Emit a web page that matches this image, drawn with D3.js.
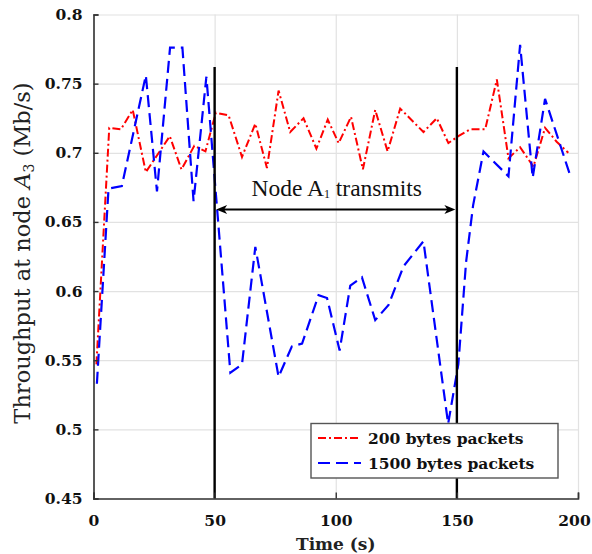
<!DOCTYPE html>
<html>
<head>
<meta charset="utf-8">
<script src="https://cdn.jsdelivr.net/npm/d3@7"></script>
<style>
  body { margin: 0; background: #fff; }
  svg { display: block; }
</style>
</head>
<body>
<svg id="chart"></svg>
<script>
const xTicks = [0, 50, 100, 150, 200];
const yTicks = [0.45, 0.5, 0.55, 0.6, 0.65, 0.7, 0.75, 0.8];
const yTickLabels = ["0.45", "0.5", "0.55", "0.6", "0.65", "0.7", "0.75", "0.8"];

// 200 bytes packets (red, dash-dot)
const redTime = [1.2, 6.5, 11.3, 16.2, 21.6, 31.5, 36.3, 41.6, 46.2, 50.5, 55.8, 61.3, 66.8, 71.6, 76.4,
  81.2, 86.7, 92.0, 96.7, 101.2, 106.3, 111.2, 116.3, 121.4, 126.6, 136.2, 141.7, 146.5, 150.6,
  155.5, 161.7, 166.5, 171.3, 176.1, 181.6, 186.4, 191.2, 196.0];
const redValue = [0.547, 0.718, 0.717, 0.731, 0.686, 0.712, 0.688, 0.705, 0.701, 0.729, 0.727, 0.697, 0.721, 0.689, 0.745,
  0.715, 0.725, 0.703, 0.724, 0.707, 0.726, 0.688, 0.731, 0.701, 0.732, 0.715, 0.725, 0.707, 0.712,
  0.717, 0.717, 0.753, 0.696, 0.704, 0.690, 0.718, 0.708, 0.700];

// 1500 bytes packets (blue, dashed)
const blueTime = [1.4, 6.2, 11.7, 21.6, 26.2, 31.6, 36.7, 41.3, 46.6, 56.5, 61.3, 66.8, 76.4, 81.9, 86.1,
  92.9, 96.4, 101.6, 106.0, 110.8, 116.3, 121.8, 128.0, 136.2, 146.4, 150.6, 153.8, 156.7, 161.0,
  171.3, 176.1, 181.3, 186.4, 196.7];
const blueValue = [0.533, 0.674, 0.676, 0.756, 0.672, 0.776, 0.776, 0.665, 0.755, 0.541, 0.547, 0.632, 0.538, 0.560, 0.562,
  0.597, 0.595, 0.557, 0.604, 0.610, 0.579, 0.590, 0.618, 0.636, 0.504, 0.547, 0.621, 0.662, 0.701,
  0.683, 0.778, 0.682, 0.739, 0.684];

const markTimes = [50, 150];
const markTop = 0.762;
const arrowLevel = 0.659;
const legendNames = ["200 bytes packets", "1500 bytes packets"];

const width = 592;
const height = 554;
const plotLeft = 93.5, plotRight = 578, plotTop = 14.5, plotBottom = 498.5;

const svg = d3.select("#chart").attr("width", width).attr("height", height);

const x = d3.scaleLinear().domain([0, 200]).range([plotLeft, plotRight]);
const y = d3.scaleLinear().domain([0.45, 0.8]).range([plotBottom, plotTop]);

// grid
svg.append("g")
  .attr("transform", `translate(${plotLeft},0)`)
  .call(d3.axisLeft(y).tickValues(yTicks).tickSize(-(plotRight - plotLeft)).tickFormat(""))
  .call(g => g.select(".domain").remove())
  .call(g => g.selectAll("line").attr("stroke", "#e2e2e2").attr("stroke-width", 1.2));
svg.append("g")
  .attr("transform", `translate(0,${plotBottom})`)
  .call(d3.axisBottom(x).tickValues(xTicks).tickSize(-(plotBottom - plotTop)).tickFormat(""))
  .call(g => g.select(".domain").remove())
  .call(g => g.selectAll("line").attr("stroke", "#e2e2e2").attr("stroke-width", 1.2));

const line = d3.line().x(d => x(d[0])).y(d => y(d[1]));

svg.append("path")
  .datum(d3.zip(redTime, redValue))
  .attr("fill", "none")
  .attr("stroke", "#ff0000")
  .attr("stroke-width", 2)
  .attr("stroke-dasharray", "8,3,2,3")
  .attr("d", line);

svg.append("path")
  .datum(d3.zip(blueTime, blueValue))
  .attr("fill", "none")
  .attr("stroke", "#0000ff")
  .attr("stroke-width", 2.2)
  .attr("stroke-dasharray", "12,6")
  .attr("d", line);

// vertical markers
svg.selectAll(".mark")
  .data(markTimes)
  .join("line")
  .attr("class", "mark")
  .attr("x1", d => x(d)).attr("x2", d => x(d))
  .attr("y1", y(markTop)).attr("y2", y(0.45))
  .attr("stroke", "#000")
  .attr("stroke-width", 2.4);

// double arrow
const ay = y(arrowLevel);
const ax0 = x(markTimes[0]) + 1.5, ax1 = x(markTimes[1]) - 1.5;
svg.append("line")
  .attr("x1", ax0 + 4).attr("x2", ax1 - 4)
  .attr("y1", ay).attr("y2", ay)
  .attr("stroke", "#000").attr("stroke-width", 2);
svg.append("path")
  .attr("d", `M${ax0},${ay}L${ax0 + 11},${ay - 4.5}L${ax0 + 8},${ay}L${ax0 + 11},${ay + 4.5}Z`)
  .attr("fill", "#000");
svg.append("path")
  .attr("d", `M${ax1},${ay}L${ax1 - 11},${ay - 4.5}L${ax1 - 8},${ay}L${ax1 - 11},${ay + 4.5}Z`)
  .attr("fill", "#000");

const note = svg.append("text")
  .attr("x", (x(markTimes[0]) + x(markTimes[1])) / 2 + 1)
  .attr("y", ay - 13)
  .attr("text-anchor", "middle")
  .attr("font-family", "Liberation Serif")
  .attr("font-size", 23.5)
  .attr("fill", "#111");
note.append("tspan").text("Node A");
note.append("tspan").attr("font-size", 12).attr("dy", 2).text("1");
note.append("tspan").attr("dy", -2).text(" transmits");

// axes
svg.append("g")
  .attr("transform", `translate(${plotLeft},0)`)
  .call(d3.axisLeft(y).tickValues(yTicks).tickSize(-5).tickPadding(11)
    .tickFormat((d, i) => yTickLabels[i]))
  .call(g => g.select(".domain").attr("stroke", "#333").attr("stroke-width", 1.6))
  .call(g => g.selectAll("line").attr("stroke", "#333").attr("stroke-width", 1.4))
  .call(g => g.selectAll("text")
    .attr("font-family", "DejaVu Serif").attr("font-weight", "bold")
    .attr("font-size", 15.5).attr("fill", "#111"));

svg.append("g")
  .attr("transform", `translate(0,${plotBottom})`)
  .call(d3.axisBottom(x).tickValues(xTicks).tickSize(-6).tickPadding(16))
  .call(g => g.select(".domain").attr("stroke", "#333").attr("stroke-width", 1.6))
  .call(g => g.selectAll("line").attr("stroke", "#333").attr("stroke-width", 1.4))
  .call(g => g.selectAll("text")
    .attr("font-family", "DejaVu Serif").attr("font-weight", "bold")
    .attr("font-size", 15.5).attr("fill", "#111")
    .attr("dx", (d, i, n) => i === n.length - 1 ? -4 : 0));

// axis titles
svg.append("text")
  .attr("x", (plotLeft + plotRight) / 2)
  .attr("y", 550)
  .attr("text-anchor", "middle")
  .attr("font-family", "DejaVu Serif")
  .attr("font-weight", "bold")
  .attr("font-size", 17)
  .attr("fill", "#222")
  .text("Time (s)");

const ylab = svg.append("text")
  .attr("transform", "translate(30,253) rotate(-90)")
  .attr("text-anchor", "middle")
  .attr("font-family", "DejaVu Serif")
  .attr("font-size", 22.5)
  .attr("fill", "#222");
ylab.append("tspan").text("Throughput at node ");
ylab.append("tspan").attr("font-style", "italic").text("A");
ylab.append("tspan").attr("font-size", 14).attr("dy", 4).text("3");
ylab.append("tspan").attr("dy", -4).text(" (Mb/s)");

// legend
const legend = svg.append("g");
legend.append("rect")
  .attr("x", 311).attr("y", 423.5)
  .attr("width", 247).attr("height", 54.5)
  .attr("fill", "#fff")
  .attr("stroke", "#555")
  .attr("stroke-width", 1.4);

const legendStyle = [
  { color: "#ff0000", dash: "8,3,2,3", w: 2 },
  { color: "#0000ff", dash: "12,6", w: 2.2 }
];
legendNames.forEach((name, i) => {
  const ly = 438 + i * 25;
  legend.append("line")
    .attr("x1", 318).attr("x2", 361)
    .attr("y1", ly).attr("y2", ly)
    .attr("stroke", legendStyle[i].color)
    .attr("stroke-width", legendStyle[i].w)
    .attr("stroke-dasharray", legendStyle[i].dash);
  legend.append("text")
    .attr("x", 368).attr("y", ly + 5.5)
    .attr("font-family", "DejaVu Serif")
    .attr("font-weight", "bold")
    .attr("font-size", 15.5)
    .attr("fill", "#111")
    .text(name);
});
</script>
</body>
</html>
